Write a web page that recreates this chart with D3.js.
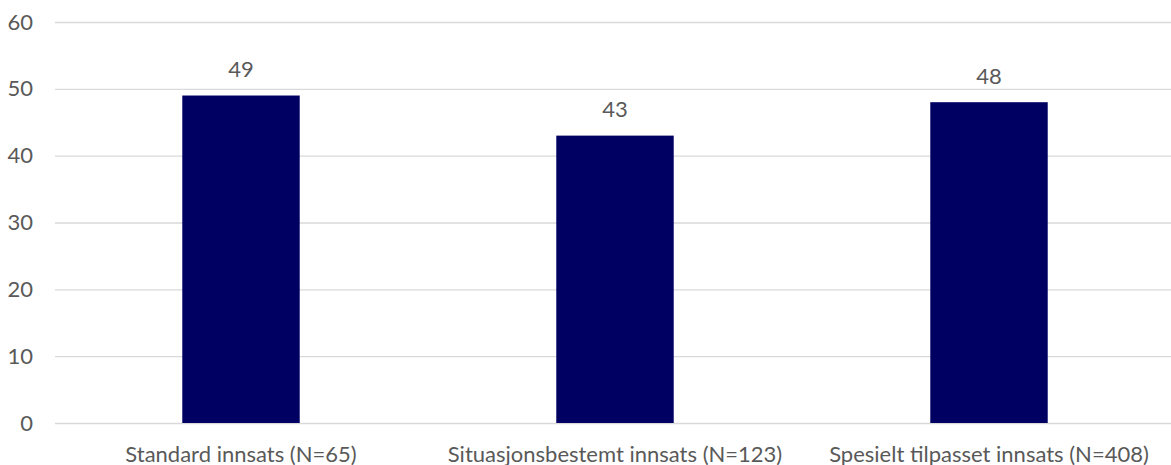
<!DOCTYPE html>
<html>
<head>
<meta charset="utf-8">
<script src="https://cdn.jsdelivr.net/npm/d3@7"></script>
<style>
  html, body { margin: 0; padding: 0; background: #fff; }
  svg { display: block; }
  text { font-family: Lato, "Open Sans", sans-serif; fill: #595959; }
</style>
</head>
<body>
<svg id="chart" width="1171" height="465"></svg>
<script>
// Chart data
const categories = ["Standard innsats (N=65)", "Situasjonsbestemt innsats (N=123)", "Spesielt tilpasset innsats (N=408)"];
const values = [49, 43, 48];
const yTicks = [0, 10, 20, 30, 40, 50, 60];

const svg = d3.select("#chart");
const W = 1171, H = 465;
const plot = { left: 54, right: 1176, top: 22, bottom: 423 };

const x = d3.scaleBand()
  .domain(categories)
  .range([plot.left, plot.right])
  .paddingInner(0.686)
  .paddingOuter(0.343);

const y = d3.scaleLinear()
  .domain([0, 60])
  .range([plot.bottom, plot.top]);

// Horizontal gridlines with tick labels
const yAxis = d3.axisLeft(y)
  .tickValues(yTicks)
  .tickSize(-(W - plot.left))
  .tickPadding(22);

const gy = svg.append("g")
  .attr("transform", `translate(${plot.left + 1},0)`)
  .call(yAxis);
gy.select(".domain").remove();
gy.selectAll(".tick line")
  .attr("stroke", "#d9d9d9")
  .attr("stroke-width", 1.4);
gy.selectAll(".tick text")
  .attr("font-size", 22)
  .attr("fill", "#595959")
  .style("font-family", "Lato, 'Open Sans', sans-serif");

// Bars
svg.append("g")
  .selectAll("rect")
  .data(values)
  .join("rect")
  .attr("x", (d, i) => x(categories[i]))
  .attr("width", x.bandwidth())
  .attr("y", d => y(d))
  .attr("height", d => y(0) - y(d))
  .attr("fill", "#000062");

// Value labels above bars
svg.append("g")
  .selectAll("text")
  .data(values)
  .join("text")
  .attr("x", (d, i) => x(categories[i]) + x.bandwidth() / 2)
  .attr("y", d => y(d) - 18.5)
  .attr("text-anchor", "middle")
  .attr("font-size", 22)
  .text(d => d);

// Category labels
svg.append("g")
  .selectAll("text")
  .data(categories)
  .join("text")
  .attr("x", d => x(d) + x.bandwidth() / 2)
  .attr("y", 461.5)
  .attr("text-anchor", "middle")
  .attr("font-size", 22)
  .text(d => d);
</script>
</body>
</html>
